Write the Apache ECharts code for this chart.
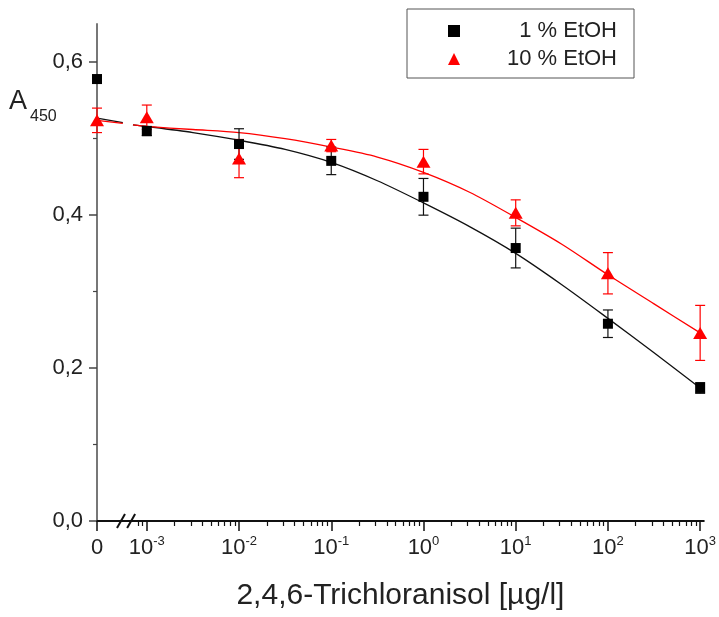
<!DOCTYPE html>
<html><head><meta charset="utf-8">
<script src="https://cdn.jsdelivr.net/npm/echarts@6/dist/echarts.min.js"></script>
<style>html,body{margin:0;padding:0;background:#fff}#c{width:719px;height:617px}</style>
</head><body><div id="c"></div>
<script>
// ---- data ----
const concentrations = [0, 1e-3, 1e-2, 1e-1, 1, 10, 100, 1000];
const ethanol1 = [0.578, 0.510, 0.493, 0.471, 0.424, 0.357, 0.258, 0.174];
const ethanol1Err = [0.005, 0.006, 0.020, 0.018, 0.024, 0.026, 0.018, 0.007];
const ethanol10 = [0.524, 0.528, 0.474, 0.491, 0.470, 0.403, 0.324, 0.246];
const ethanol10Err = [0.016, 0.016, 0.025, 0.008, 0.016, 0.017, 0.027, 0.036];
const fitLogX = [-3.54, -3.26, null, -3.15, -3, -2.5, -2, -1.5, -1, -0.5, 0, 0.5, 1, 1.5, 2, 2.5, 3];
const fit1 = [0.527, 0.521, null, 0.518, 0.516, 0.508, 0.498, 0.486, 0.469, 0.445, 0.416, 0.385, 0.350, 0.309, 0.265, 0.220, 0.174];
const fit10 = [0.524, 0.520, null, 0.518, 0.516, 0.512, 0.508, 0.500, 0.489, 0.476, 0.456, 0.430, 0.397, 0.362, 0.322, 0.284, 0.246];
const xTickExponents = [-3, -2, -1, 0, 1, 2, 3];
const yTickValues = [0, 0.2, 0.4, 0.6];
const yMinorValues = [0.1, 0.3, 0.5];
const seriesNames = ['1 % EtOH', '10 % EtOH'];
const xAxisTitle = '2,4,6-Trichloranisol [µg/l]';

// ---- layout helpers ----
const ZERO_POS = -3.54;   // where concentration 0 sits (left of the axis break)
const X_MAX = 3.04;
const FONT = '"Liberation Sans", Arial, sans-serif';
const xPos = c => c === 0 ? ZERO_POS : Math.log10(c);
const xs = concentrations.map(xPos);

const majorX = [ZERO_POS].concat(xTickExponents);
const minorX = [];
for (let d = -4; d <= 2; d++) for (let k = 2; k <= 9; k++) {
  const v = d + Math.log10(k);
  if (v > -3.12 && v < X_MAX) minorX.push(v);
}

// split a curve into segments at the null (axis break) entries
function curveSegments(ys) {
  const segs = [[]];
  fitLogX.forEach((x, i) => {
    if (x === null || ys[i] === null) { segs.push([]); return; }
    segs[segs.length - 1].push([x, ys[i]]);
  });
  return segs.filter(s => s.length > 1);
}
function curveSeries(ys, color) {
  return curveSegments(ys).map(seg => ({
    type: 'line', data: seg, smooth: 0.3, showSymbol: false, symbol: 'none',
    lineStyle: { color: color, width: 1.3 }, z: 2, silent: true
  }));
}
function errorSeries(vals, errs, color) {
  return {
    type: 'custom', xAxisIndex: 0, yAxisIndex: 0, z: 3, silent: true,
    data: xs.map((x, i) => [x, vals[i] - errs[i], vals[i] + errs[i]]),
    encode: { x: 0, y: [1, 2] },
    renderItem(params, api) {
      const x = api.value(0);
      const lo = api.coord([x, api.value(1)]);
      const hi = api.coord([x, api.value(2)]);
      const w = 5;
      const st = { stroke: color, lineWidth: 1.2 };
      return { type: 'group', children: [
        { type: 'line', shape: { x1: lo[0], y1: lo[1], x2: hi[0], y2: hi[1] }, style: st },
        { type: 'line', shape: { x1: lo[0] - w, y1: lo[1], x2: lo[0] + w, y2: lo[1] }, style: st },
        { type: 'line', shape: { x1: hi[0] - w, y1: hi[1], x2: hi[0] + w, y2: hi[1] }, style: st }
      ]};
    }
  };
}

const chart = echarts.init(document.getElementById('c'), null, { renderer: 'canvas' });
const option = {
  animation: false,
  backgroundColor: '#fff',
  textStyle: { fontFamily: FONT },
  grid: { left: 97, right: 12, top: 24, bottom: 96 },
  legend: {
    left: 407, top: 9, orient: 'vertical',
    borderColor: '#555', borderWidth: 1, borderRadius: 0,
    padding: [11, 17, 8, 41], itemGap: 6,
    itemWidth: 12, itemHeight: 12,
    data: [
      { name: seriesNames[0], icon: 'rect' },
      { name: seriesNames[1], icon: 'triangle' }
    ],
    formatter: n => '{t|' + n + '}',
    textStyle: { fontSize: 22, color: '#222', fontFamily: FONT,
      rich: { t: { width: 152, align: 'right', fontSize: 22, lineHeight: 22, fontFamily: FONT, color: '#222' } } }
  },
  xAxis: [
    {
      type: 'value', min: ZERO_POS, max: X_MAX, position: 'bottom',
      name: xAxisTitle, nameLocation: 'middle', nameGap: 60,
      nameTextStyle: { fontSize: 30, color: '#222', fontFamily: FONT },
      axisLine: { show: true, onZero: false, lineStyle: { color: '#111', width: 2 } },
      axisTick: { show: true, customValues: majorX, length: 10, lineStyle: { color: '#111', width: 1.5 } },
      axisLabel: {
        customValues: majorX, margin: 14, fontSize: 22, color: '#222', lineHeight: 26,
        formatter: v => Math.abs(v - ZERO_POS) < 1e-6 ? '0' : '10{sup|' + Math.round(v) + '}',
        rich: { sup: { fontSize: 13, lineHeight: 13, verticalAlign: 'top', color: '#222', fontFamily: FONT } }
      },
      splitLine: { show: false }
    },
    {
      type: 'value', min: ZERO_POS, max: X_MAX, position: 'bottom', offset: 0,
      axisLine: { show: false, onZero: false },
      axisTick: { show: true, customValues: minorX, length: 5, lineStyle: { color: '#111', width: 1.2 } },
      axisLabel: { show: false }, splitLine: { show: false }
    }
  ],
  yAxis: [
    {
      type: 'value', min: 0, max: 0.65,
      axisLine: { show: true, onZero: false, lineStyle: { color: '#777', width: 2 } },
      axisTick: { show: true, customValues: yTickValues, length: 8, lineStyle: { color: '#444', width: 1.5 } },
      axisLabel: { customValues: yTickValues, margin: 14, fontSize: 22, color: '#222',
        formatter: v => v.toFixed(1).replace('.', ',') },
      splitLine: { show: false }
    },
    {
      type: 'value', min: 0, max: 0.65, position: 'left', offset: 0,
      axisLine: { show: false, onZero: false },
      axisTick: { show: true, customValues: yMinorValues, length: 4, lineStyle: { color: '#444', width: 1.2 } },
      axisLabel: { show: false }, splitLine: { show: false }
    }
  ],
  series: [].concat(
    curveSeries(fit1, '#111'),
    curveSeries(fit10, '#ff0000'),
    [
      errorSeries(ethanol1, ethanol1Err, '#111'),
      errorSeries(ethanol10, ethanol10Err, '#ff0000'),
      { name: seriesNames[0], type: 'scatter', symbol: 'rect', symbolSize: 10,
        itemStyle: { color: '#000', opacity: 1 }, z: 4,
        data: xs.map((x, i) => [x, ethanol1[i]]) },
      { name: seriesNames[1], type: 'scatter', symbol: 'triangle', symbolSize: [14, 12],
        itemStyle: { color: '#ff0000', opacity: 1 }, z: 5,
        data: xs.map((x, i) => [x, ethanol10[i]]) }
    ]
  )
};
chart.setOption(option);

// axis break marks and y-axis title
const y0 = chart.convertToPixel({ xAxisIndex: 0, yAxisIndex: 0 }, [ZERO_POS, 0])[1];
const b1 = chart.convertToPixel({ xAxisIndex: 0, yAxisIndex: 0 }, [-3.28, 0])[0];
const b2 = chart.convertToPixel({ xAxisIndex: 0, yAxisIndex: 0 }, [-3.17, 0])[0];
const slash = (cx) => ({ type: 'line', shape: { x1: cx - 4, y1: y0 + 7, x2: cx + 4, y2: y0 - 7 },
  style: { stroke: '#111', lineWidth: 2 }, z: 10 });
chart.setOption({
  graphic: [
    slash(b1), slash(b2),
    { type: 'text', left: 9, top: 88, z: 10,
      style: { text: 'A', fontSize: 27, fill: '#222', fontFamily: FONT } },
    { type: 'text', left: 30, top: 109, z: 10,
      style: { text: '450', fontSize: 16, fill: '#222', fontFamily: FONT } }
  ]
});
</script></body></html>
